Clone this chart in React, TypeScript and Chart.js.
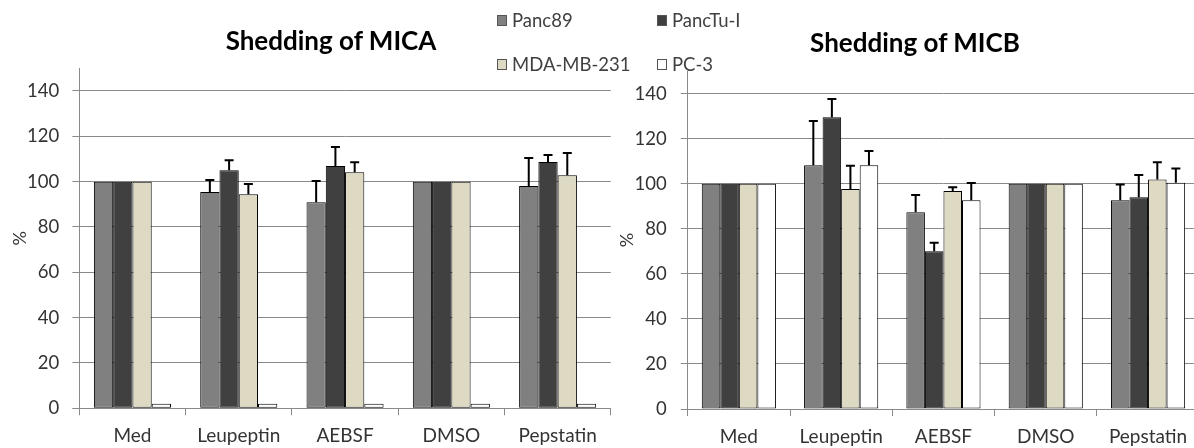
import React, { useEffect, useRef } from 'react';
import { Chart, registerables } from 'chart.js';

Chart.register(...registerables);

// ---------- data ----------
const categories = ['Med', 'Leupeptin', 'AEBSF', 'DMSO', 'Pepstatin'];
const seriesNames = ['Panc89', 'PancTu-I', 'MDA-MB-231', 'PC-3'];
const seriesColors = ['#808080', '#404040', '#DDD9C3', '#FFFFFF'];
const yTicks = [0, 20, 40, 60, 80, 100, 120, 140];
const yMax = 150;

// Shedding of MICA
const micaPanc89 = [100, 95.4, 90.9, 100, 98.1];
const micaPanc89Err = [0, 5.3, 9.4, 0, 12.3];
const micaPancTu = [100, 105, 106.9, 100, 108.7];
const micaPancTuErr = [0, 4.4, 8.4, 0, 3.0];
const micaMDA = [100, 94.4, 104.1, 100, 102.8];
const micaMDAErr = [0, 4.6, 4.4, 0, 9.8];
const micaPC3 = [2, 2, 2, 2, 2];
const micaPC3Err = [0, 0, 0, 0, 0];

// Shedding of MICB
const micbPanc89 = [100, 108.2, 87.3, 100, 92.6];
const micbPanc89Err = [0, 19.6, 7.7, 0, 7.0];
const micbPancTu = [100, 129.5, 70, 100, 94];
const micbPancTuErr = [0, 8.1, 3.8, 0, 9.9];
const micbMDA = [100, 97.6, 96.8, 100, 101.8];
const micbMDAErr = [0, 10.4, 1.6, 0, 7.7];
const micbPC3 = [100, 108.2, 92.6, 100, 100.4];
const micbPC3Err = [0, 6.3, 7.7, 0, 6.3];

const titleMICA = 'Shedding of MICA';
const titleMICB = 'Shedding of MICB';
const yAxisTitle = '%';

// ---------- styling ----------
const GRID = '#8a8a8a';
const TEXT = '#333333';
const FONT = 'Lato, "Open Sans", sans-serif';

const errorBars = {
  id: 'errorBars',
  afterDatasetsDraw(chart: any) {
    const { ctx } = chart;
    const y = chart.scales.y;
    chart.data.datasets.forEach((ds: any, i: number) => {
      const meta = chart.getDatasetMeta(i);
      const errs: number[] = ds.errors || [];
      meta.data.forEach((bar: any, j: number) => {
        const e = errs[j];
        if (!e) return;
        const v = ds.data[j] as number;
        const top = y.getPixelForValue(v + e);
        const x = bar.x;
        ctx.save();
        ctx.strokeStyle = '#000';
        ctx.lineWidth = 2;
        ctx.beginPath();
        ctx.moveTo(x, bar.y);
        ctx.lineTo(x, top);
        ctx.moveTo(x - 4.5, top);
        ctx.lineTo(x + 4.5, top);
        ctx.stroke();
        ctx.restore();
      });
    });
  },
};

type Geom = {
  padTop: number;
  padRight: number;
  yWidth: number;
  xHeight: number;
  labelPad: number;
  titlePad: number;
};

function buildConfig(values: number[][], errors: number[][], g: Geom): any {
  return {
    type: 'bar',
    data: {
      labels: categories,
      datasets: seriesNames.map((name, i) => ({
        label: name,
        data: values[i],
        errors: errors[i],
        backgroundColor: seriesColors[i],
        borderColor: '#000',
        borderWidth: 1,
        borderSkipped: false,
        categoryPercentage: 0.725,
        barPercentage: 1,
      })),
    },
    options: {
      responsive: false,
      animation: false,
      layout: { padding: { top: g.padTop, right: g.padRight, left: 0, bottom: 0 } },
      plugins: {
        legend: { display: false },
        title: { display: false },
        tooltip: { enabled: false },
      },
      scales: {
        x: {
          grid: {
            display: true,
            drawOnChartArea: false,
            drawTicks: true,
            tickLength: 7,
            color: GRID,
            offset: true,
          },
          border: { display: true, color: GRID, width: 1 },
          ticks: {
            color: TEXT,
            font: { size: 19, family: FONT },
            padding: 9,
            maxRotation: 0,
            autoSkip: false,
          },
          afterFit: (s: any) => {
            s.height = g.xHeight;
          },
        },
        y: {
          min: 0,
          max: yMax,
          afterBuildTicks: (s: any) => {
            s.ticks = yTicks.map((v) => ({ value: v }));
          },
          ticks: {
            color: TEXT,
            font: { size: 18.5, family: FONT },
            padding: g.labelPad,
          },
          grid: { color: GRID, tickLength: 7, lineWidth: 1 },
          border: { display: true, color: GRID, width: 1 },
          title: {
            display: true,
            text: yAxisTitle,
            color: TEXT,
            font: { size: 18, family: FONT },
            padding: { top: g.titlePad, bottom: 0 },
          },
          afterFit: (s: any) => {
            s.width = g.yWidth;
          },
        },
      },
    },
    plugins: [errorBars],
  };
}

const LEG_FS = 18.5;
const legendCell = (name: string, color: string, x: number, baseline: number) => (
  <div key={name}>
    <div
      style={{
        position: 'absolute',
        left: x,
        top: baseline - 12,
        width: 10,
        height: 11,
        background: color,
        border: '1px solid #555',
        boxSizing: 'border-box',
      }}
    />
    <div
      style={{
        position: 'absolute',
        left: x + 15,
        top: baseline - 0.887 * LEG_FS,
        fontFamily: FONT,
        fontSize: LEG_FS,
        lineHeight: LEG_FS + 'px',
        color: '#404040',
        whiteSpace: 'nowrap',
      }}
    >
      {name}
    </div>
  </div>
);

export default function App() {
  const leftRef = useRef<HTMLCanvasElement>(null);
  const rightRef = useRef<HTMLCanvasElement>(null);

  useEffect(() => {
    const left = new Chart(
      leftRef.current!,
      buildConfig(
        [micaPanc89, micaPancTu, micaMDA, micaPC3],
        [micaPanc89Err, micaPancTuErr, micaMDAErr, micaPC3Err],
        { padTop: 68.3, padRight: 29.2, yWidth: 79.3, xHeight: 39.7, labelPad: 13, titlePad: 9 }
      )
    );
    const right = new Chart(
      rightRef.current!,
      buildConfig(
        [micbPanc89, micbPancTu, micbMDA, micbPC3],
        [micbPanc89Err, micbPancTuErr, micbMDAErr, micbPC3Err],
        { padTop: 71, padRight: 10.8, yWidth: 87.7, xHeight: 39, labelPad: 14, titlePad: 16.5 }
      )
    );
    return () => {
      left.destroy();
      right.destroy();
    };
  }, []);

  const TFS = 26;
  const titleStyle = (center: number, baseline: number): React.CSSProperties => ({
    position: 'absolute',
    left: center,
    top: baseline - 0.887 * TFS,
    transform: 'translateX(-50%)',
    fontFamily: FONT,
    fontWeight: 700,
    fontSize: TFS,
    lineHeight: TFS + 'px',
    color: '#000',
    whiteSpace: 'nowrap',
  });

  return (
    <div
      style={{
        position: 'absolute',
        left: 0,
        top: 0,
        width: 1194,
        height: 448,
        overflow: 'hidden',
        background: '#fff',
      }}
    >
      <canvas ref={leftRef} width={640} height={448} style={{ position: 'absolute', left: 0, top: 0 }} />
      <canvas ref={rightRef} width={610} height={448} style={{ position: 'absolute', left: 600, top: 0 }} />
      <div style={titleStyle(331, 50)}>{titleMICA}</div>
      <div style={titleStyle(915, 52)}>{titleMICB}</div>
      {legendCell(seriesNames[0], seriesColors[0], 497, 27)}
      {legendCell(seriesNames[1], seriesColors[1], 657, 27)}
      {legendCell(seriesNames[2], seriesColors[2], 497, 71)}
      {legendCell(seriesNames[3], seriesColors[3], 657, 71)}
    </div>
  );
}
